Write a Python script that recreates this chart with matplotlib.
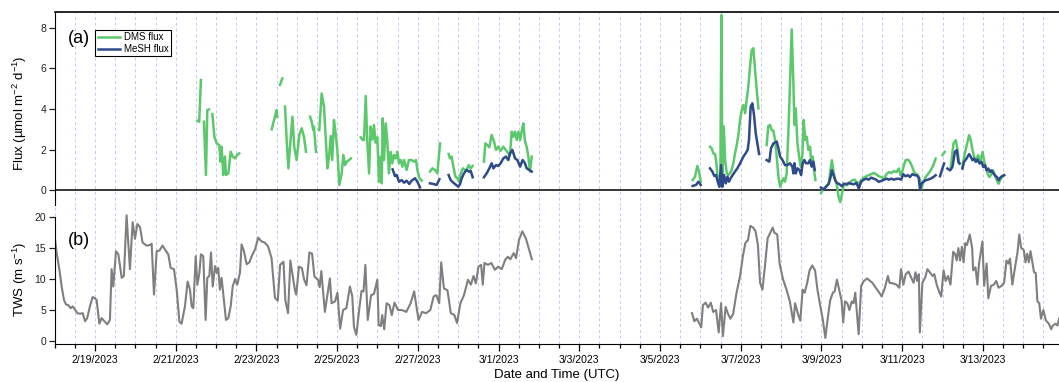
"""DMS / MeSH flux and true wind speed, Feb-Mar 2023"""
from datetime import datetime, timedelta

import numpy as np
import matplotlib
matplotlib.use("Agg")
import matplotlib.pyplot as plt
import matplotlib.dates as mdates
from matplotlib.ticker import FuncFormatter

nan = np.nan

# hours since 2023-02-18 00:00 UTC; nan breaks a line between data blocks
dms_hours = [
    84.9, 86.0, 87.0, nan,
    88.8, 90.0, 90.8, 91.8, nan,
    93.8, 95.0, 96.4, 97.9, 98.7, 99.3, 100.3, 101.3, 101.9, 103.3, 104.7, 105.9, 107.3, 108.6, 109.8, nan,
    129.1, 132.0, 132.4, nan,
    134.0, 135.4, nan,
    137.0, 138.0, 139.0, 140.0, 141.4, 142.5, 143.9, 145.5, 146.9, 148.3, 149.5, nan,
    151.9, 152.9, 153.8, 154.2, 155.4, nan,
    157.4, 158.8, 160.2, 161.2, 162.2, 163.2, 164.2, 165.1, 166.1, 167.1, 168.1, 169.3, 170.7, 171.7, 172.7, 173.7, 175.1, 176.2, nan,
    182.0, 183.2, 184.0, 185.0, 186.0, 187.0, 187.9, 189.1, 189.9, 190.9, 191.9, 192.9, 193.9, 194.5, 195.1, 195.9,
    196.9, 197.9, 198.8, 199.8, 200.8, 201.8, 202.8, 203.8, 204.8, 205.8, 206.8, 207.8, 209.3, 210.7, 212.3, 213.7,
    214.9, 215.7, 216.9, 218.3, nan,
    223.2, 224.6, 226.2, 227.6, 229.2, nan,
    234.3, 235.1, 236.1, 237.1, 238.3, 239.5, 240.5, 241.5, 242.7, 244.0, 245.0, 246.2, 247.4, 248.6, nan,
    255.3, 256.1, 257.3, 258.5, 259.9, 261.3, 262.5, 263.9, 265.2, 266.8, 268.2, 269.8, 270.8, 271.8, 272.8, 273.8,
    274.8, 275.8, 276.8, 277.7, 278.7, 279.7, 280.7, 281.7, 282.7, 283.7, nan,
    379.4, 380.8, 382.2, 383.4, 384.2, nan,
    389.7, 390.7, 391.7, 392.7, 393.3, 394.1, 395.3, 395.9, 396.5, 397.1, 397.9, 398.7, 399.7, 400.6, 401.6, 402.6,
    403.6, 404.6, 405.6, 406.6, 407.6, 408.6, 409.6, 410.6, 411.5, 412.5, 413.5, 414.5, 415.5, 416.5, 417.5, 418.5, nan,
    423.4, 424.4, 425.4, 426.4, 427.4, 428.4, 429.4, 430.4, 431.4, 432.4, 433.4, 434.3, 435.3, 436.3, 437.3, 438.3,
    439.3, 439.9, 440.7, 441.7, 442.7, 443.7, 444.7, 445.4, 446.4, 447.2, 448.2, 449.2, 450.0, 450.8, 451.6, 452.4, nan,
    455.7, 457.3, 458.9, 460.3, 461.2, 462.2, 463.2, 464.2, 465.2, 466.2, 467.2, 468.2, 469.2, 470.2, 471.2, 472.6,
    474.2, 475.6, 476.8, 478.2, 479.5, 481.1, 482.7, 484.1, 485.5, 487.1, 488.5, 490.1, 491.5, 493.1, 494.7, 496.1,
    497.5, 499.0, 500.6, 502.0, 503.0, 504.0, 505.0, 506.0, 507.4, 508.6, 510.0, 511.0, 512.0, 513.4, 514.6, 515.4,
    516.6, 517.9, 519.3, 520.9, 522.5, 523.9, nan,
    527.9, 529.3, nan,
    532.9, 534.5, 535.9, 536.9, 537.8, nan,
    539.8, 541.2, 542.4, 543.8, 544.8, 545.8, 546.8, 547.8, 549.2, 550.4, 551.8, 552.8, 553.8, 554.8, 555.8, 556.7,
    558.1, 559.1, 560.3, 561.3, 562.7, 564.3,
]
dms_flux = [
    3.42, 3.37, 5.43, nan,
    3.37, 0.74, 3.95, 3.98, nan,
    3.75, 2.63, 2.30, 2.22, 1.40, 2.14, 0.74, 1.65, 0.74, 0.82, 1.89, 1.65, 1.56, 1.73, 1.81, nan,
    3.00, 3.95, 3.62, nan,
    5.19, 5.51, nan,
    4.12, 2.47, 1.07, 2.14, 3.62, 2.14, 1.48, 2.72, 3.05, 2.63, 1.89, nan,
    3.62, 3.37, 2.96, 3.13, 1.89, nan,
    2.96, 4.77, 4.12, 2.63, 1.07, 1.65, 2.67, 1.48, 3.46, 2.80, 1.98, 0.25, 0.82, 1.73, 1.23, 1.40, 1.48, 1.56, nan,
    2.60, 2.47, 2.47, 4.64, 2.30, 0.82, 3.13, 2.50, 3.21, 2.34, 2.60, 0.41, 1.65, 0.33, 3.54, 1.48,
    3.29, 2.30, 0.82, 1.89, 1.32, 1.73, 1.56, 1.89, 1.32, 1.48, 1.15, 1.48, 0.99, 1.48, 1.48, 1.40,
    1.48, 0.99, 0.58, 0.46, nan,
    0.91, 1.07, 0.99, 0.82, 2.30, nan,
    1.78, 1.56, 1.65, 1.15, 0.66, 0.58, 0.41, 0.82, 1.07, 0.99, 0.99, 1.23, 1.07, 1.19, nan,
    1.40, 2.30, 2.22, 2.11, 2.72, 2.39, 1.98, 2.14, 1.94, 2.14, 1.98, 1.81, 1.73, 2.88, 2.63, 2.88,
    2.47, 2.88, 2.47, 2.88, 3.29, 2.39, 2.14, 1.65, 0.91, 1.65, nan,
    0.49, 0.66, 1.19, 0.82, 0.41, nan,
    2.14, 2.06, 1.81, 1.78, 1.48, 0.82, 0.16, 0.82, 8.64, 0.49, 3.13, 1.48, 0.82, 0.74, 0.82, 0.99,
    1.32, 1.81, 2.22, 2.72, 3.46, 3.95, 4.20, 3.79, 4.44, 5.10, 6.09, 6.91, 7.00, 5.93, 4.94, 4.03, nan,
    2.22, 3.16, 3.21, 2.96, 2.93, 2.47, 1.65, 0.66, 0.16, 0.41, 0.58, 0.41, 0.82, 2.80, 5.27, 7.93,
    5.27, 3.21, 4.03, 2.30, 1.65, 1.15, 1.81, 3.46, 2.47, 2.63, 1.98, 2.14, 1.32, 1.65, 0.99, 0.49, nan,
    -0.15, 0.07, 0.18, 0.31, 0.89, 1.47, 0.89, 0.48, 0.23, -0.35, -0.60, -0.18, 0.23, 0.31, 0.23, 0.35,
    0.48, 0.51, 0.40, 0.31, 0.48, 0.61, 0.68, 0.73, 0.78, 0.84, 0.78, 0.68, 0.64, 0.56, 0.78, 0.89,
    0.84, 0.93, 0.89, 1.06, 0.73, 0.89, 1.22, 1.47, 1.50, 1.39, 1.14, 0.89, 0.81, 0.73, 0.51, 0.07,
    0.40, 0.64, 0.78, 0.97, 1.22, 1.55, nan,
    1.72, 1.88, nan,
    1.14, 2.30, 2.46, 1.97, 1.31, nan,
    1.14, 1.80, 2.21, 2.71, 2.46, 1.97, 1.64, 1.47, 1.72, 1.39, 1.88, 1.39, 1.14, 0.81, 0.64, 0.73,
    0.97, 0.73, 0.48, 0.31, 0.56, 0.73,
]

mesh_hours = [
    201.0, 202.4, 203.4, 204.8, 206.4, 207.8, 209.3, 210.9, 212.3, 214.3, 215.7, 217.3, nan,
    223.2, 225.2, 227.2, 228.8, nan,
    234.3, 235.5, 237.1, 238.7, 240.1, 241.1, 242.1, 243.4, 245.0, 246.4, 247.4, 248.6, nan,
    255.3, 256.9, 258.5, 259.9, 260.9, 262.5, 263.9, 265.2, 266.8, 268.4, 269.8, 270.8, 272.2, 273.8, 275.2, 276.8,
    278.3, 279.7, 280.7, 282.3, 283.7, nan,
    379.4, 381.4, 382.8, 384.2, nan,
    389.7, 391.1, 392.3, 393.3, 394.3, 395.3, 396.3, 397.1, 398.1, 399.1, 400.1, 401.0, 402.0, 403.2, 404.6, 406.0,
    407.6, 409.6, 410.9, 412.1, 412.9, 413.9, 414.9, 415.9, 416.9, 417.9, 418.9, nan,
    423.4, 425.0, 426.0, 427.4, 429.4, 430.4, 431.4, 432.8, 434.3, 435.7, 437.3, 438.7, 439.3, 439.9, 440.7, 441.7,
    442.9, 443.9, 444.8, 445.8, 446.8, 448.2, 449.2, 450.2, 451.2, 452.0, nan,
    455.7, 457.3, 458.9, 460.3, 461.2, 462.2, 463.2, 464.2, 465.2, 466.8, 468.2, 469.2, 470.8, 472.2, 473.6, 475.2,
    476.8, 478.2, 479.5, 481.1, 482.7, 484.1, 485.5, 487.1, 488.5, 490.1, 491.5, 493.1, 494.7, 496.1, 497.5, 499.0,
    500.6, 502.0, 503.4, 504.6, 506.0, 507.4, 508.6, 510.0, 511.4, 512.6, 513.8, 514.6, 515.4, 516.6, 517.9, 519.3,
    520.9, 522.5, 523.9, nan,
    526.5, 527.9, 528.9, nan,
    530.9, 532.5, 533.9, 535.3, 536.5, 537.4, 538.2, nan,
    539.8, 540.8, 542.2, 543.8, 544.8, 545.8, 546.8, 547.8, 548.8, 550.0, 551.2, 552.2, 553.2, 554.2, 555.2, 556.2,
    557.1, 558.1, 559.1, 560.3, 561.3, 562.3, 563.3, 564.7,
]
mesh_flux = [
    1.02, 0.69, 0.74, 0.41, 0.49, 0.36, 0.46, 0.30, 0.46, 0.58, 0.41, 0.13, nan,
    0.33, 0.30, 0.25, 0.53, nan,
    0.74, 0.49, 0.36, 0.25, 0.16, 0.30, 0.58, 0.82, 0.99, 0.91, 0.95, 0.63, nan,
    0.63, 0.82, 1.07, 1.32, 1.07, 1.23, 1.19, 1.32, 1.56, 1.65, 1.48, 1.81, 1.98, 1.56, 1.48, 1.15,
    1.48, 1.32, 1.07, 0.99, 0.91, nan,
    0.20, 0.25, 0.41, 0.25, nan,
    1.07, 0.91, 0.69, 0.74, 0.41, 0.16, 1.23, 0.16, 0.74, 0.33, 0.66, 0.41, 0.58, 0.74, 0.91, 1.07,
    1.32, 1.65, 1.81, 1.98, 2.47, 4.12, 4.28, 3.70, 2.80, 2.30, 1.78, nan,
    1.48, 1.40, 2.06, 2.30, 2.39, 2.06, 1.65, 1.48, 1.23, 1.23, 1.32, 1.15, 0.82, 1.32, 0.82, 1.07,
    0.99, 0.74, 1.32, 1.48, 1.32, 1.32, 1.48, 1.15, 1.40, 0.99, nan,
    0.12, 0.02, 0.18, 0.31, 0.56, 0.97, 0.73, 0.48, 0.35, 0.28, 0.18, 0.31, 0.28, 0.35, 0.31, 0.28,
    0.35, 0.07, 0.40, 0.51, 0.56, 0.51, 0.61, 0.56, 0.51, 0.40, 0.45, 0.51, 0.56, 0.51, 0.56, 0.51,
    0.55, 0.56, 0.51, 0.78, 0.68, 0.73, 0.64, 0.78, 0.73, 0.73, 0.61, 0.02, 0.31, 0.40, 0.48, 0.51,
    0.56, 0.64, 0.73, nan,
    0.68, 1.06, 1.31, nan,
    1.06, 0.97, 1.14, 1.88, 1.97, 1.39, 1.31, nan,
    1.06, 1.39, 1.55, 1.77, 1.64, 1.47, 1.55, 1.39, 1.50, 1.31, 1.39, 1.14, 1.22, 0.97, 1.06, 0.89,
    0.97, 0.84, 0.73, 0.64, 0.48, 0.61, 0.68, 0.73,
]

tws_hours = [
    0.0, 1.2, 2.8, 4.2, 5.6, 6.8, 8.1, 9.5, 10.7, 12.1, 13.5, 15.1, 16.7, 18.1, 19.4, 21.0,
    22.6, 24.0, 25.0, 26.6, 28.0, 29.9, 31.3, 32.9, 33.9, 34.9, 36.5, 37.9, 38.9, 39.9, 41.2, 42.8,
    44.8, 46.4, 47.8, 49.2, 50.8, 52.3, 54.7, 56.7, 57.7, 59.1, 60.7, 62.3, 64.2, 65.6, 67.6, 69.0,
    71.0, 72.6, 74.2, 75.5, 77.5, 79.1, 80.5, 81.5, 82.5, 83.9, 84.9, 86.1, 87.0, 88.4, 89.8, 90.8,
    92.0, 93.0, 94.0, 95.4, 96.4, 97.3, 98.3, 99.3, 100.7, 101.9, 103.3, 104.7, 105.9, 107.3, 108.6, 110.2,
    111.2, 112.6, 114.2, 115.8, 117.2, 119.2, 121.1, 122.9, 124.9, 126.9, 129.0, 131.0, 132.7, 134.1, 136.1, 137.2,
    138.8, 140.2, 142.9, 143.7, 145.3, 147.0, 148.4, 149.8, 151.5, 153.1, 154.5, 156.6, 157.6, 158.6, 160.7, 162.1,
    163.7, 164.7, 166.8, 168.2, 169.8, 171.5, 173.5, 175.6, 177.0, 178.0, 179.4, 181.1, 182.5, 183.7, 184.8, 186.2,
    188.2, 189.9, 191.9, 192.7, 194.0, 194.8, 196.0, 197.4, 199.1, 200.5, 202.1, 204.2, 206.6, 209.1, 211.7, 213.8,
    216.4, 218.5, 220.9, 223.4, 225.4, 227.0, 228.7, 229.9, 231.5, 233.6, 235.6, 237.7, 239.3, 241.3, 243.4, 245.8,
    247.5, 249.1, 250.5, 252.0, 253.6, 254.6, 255.6, 257.7, 259.7, 261.8, 263.8, 265.9, 267.9, 269.5, 271.0, 273.0,
    274.4, 276.1, 278.1, 280.2, 282.2, 283.8, nan,
    379.0, 380.4, 382.0, 384.5, 385.5, 387.1, 388.6, 390.2, 391.6, 393.3, 394.9, 396.3, 397.4, 399.0, 400.4, 401.9,
    403.5, 405.5, 407.6, 409.2, 410.7, 412.3, 413.7, 415.4, 416.8, 418.2, 419.5, 420.9, 422.3, 424.0, 425.6, 427.0,
    428.0, 429.7, 431.1, 433.1, 435.2, 437.2, 439.3, 440.3, 442.0, 443.4, 444.8, 446.0, 447.5, 448.9, 450.5, 452.2,
    453.6, 455.0, 456.7, 458.3, 459.7, 461.2, 462.8, 463.8, 465.2, 466.9, 467.9, 468.9, 470.0, 471.4, 472.6, 474.0,
    475.1, 476.1, 477.1, 478.1, 479.6, 481.2, 483.2, 484.9, 486.3, 488.3, 490.4, 491.8, 493.5, 495.5, 496.5, 498.6,
    500.6, 502.3, 503.3, 504.7, 506.1, 507.8, 509.4, 510.8, 511.9, 512.9, 513.9, 514.5, 516.0, 517.6, 519.0, 520.4,
    522.1, 523.1, 524.5, 526.2, 527.2, 528.6, 529.8, 531.3, 532.7, 534.3, 535.4, 536.4, 537.4, 538.4, 539.5, 540.5,
    541.5, 542.5, 544.2, 545.6, 546.2, 547.6, 548.7, 549.7, 551.7, 552.7, 554.2, 555.2, 556.8, 558.5, 559.9, 561.3,
    563.0, 564.6, 566.0, 567.1, 568.1, 569.5, 571.1, 572.6, 573.6, 574.8, 576.3, 577.3, 578.3, 579.3, 580.3, 581.4,
    582.4, 583.4, 584.4, 585.5, 586.5, 587.9, 589.5, 591.2, 592.6, 593.6, 595.3, 596.3, 597.3,
]
tws = [
    17.0, 14.3, 11.6, 8.8, 6.6, 5.9, 5.8, 5.3, 5.6, 5.1, 4.5, 4.4, 4.5, 3.2, 3.7, 5.6,
    7.1, 6.9, 6.6, 2.8, 3.7, 3.1, 2.7, 3.4, 11.6, 8.8, 14.5, 14.0, 12.1, 10.2, 10.5, 20.3,
    11.6, 19.2, 16.5, 18.9, 18.4, 15.9, 15.4, 15.5, 15.7, 7.5, 14.5, 14.6, 15.4, 14.8, 14.0, 11.8,
    11.6, 8.3, 3.1, 2.8, 5.6, 9.6, 8.3, 5.6, 5.3, 13.7, 9.1, 11.0, 14.0, 13.7, 3.4, 10.2,
    10.5, 14.3, 8.8, 12.1, 11.0, 11.8, 8.3, 10.2, 6.6, 3.4, 3.7, 5.6, 8.8, 10.0, 9.1, 11.0,
    15.6, 14.5, 12.4, 12.7, 13.7, 14.8, 16.7, 16.1, 15.9, 15.3, 13.4, 7.0, 6.5, 12.3, 12.8, 6.6,
    4.5, 13.0, 8.2, 7.5, 12.0, 11.8, 9.9, 9.0, 14.3, 14.1, 10.4, 9.9, 8.7, 11.3, 4.7, 7.2,
    10.1, 6.1, 6.4, 7.8, 2.0, 5.0, 5.3, 8.8, 7.2, 2.3, 1.0, 5.0, 8.1, 8.0, 12.3, 3.4,
    7.4, 7.6, 9.9, 2.6, 2.4, 4.2, 1.9, 6.1, 5.8, 4.2, 6.2, 5.0, 5.0, 4.7, 6.1, 8.0,
    3.4, 4.7, 4.5, 5.0, 7.2, 7.4, 6.1, 12.7, 8.5, 8.2, 4.5, 4.2, 2.9, 6.1, 7.4, 9.9,
    9.1, 10.5, 9.3, 12.0, 12.3, 9.1, 12.6, 12.3, 12.6, 11.5, 12.0, 11.6, 13.1, 13.6, 13.2, 14.2,
    13.4, 16.3, 17.7, 16.6, 14.7, 13.2, nan,
    4.5, 3.2, 3.6, 2.2, 5.8, 6.2, 5.4, 6.2, 4.7, 5.0, 1.4, 6.1, 0.8, 5.5, 4.4, 3.6,
    4.4, 7.8, 10.5, 13.6, 15.8, 16.3, 18.6, 18.3, 17.7, 15.5, 9.4, 8.3, 11.9, 16.6, 17.5, 18.3,
    17.5, 17.2, 12.5, 10.0, 8.3, 6.4, 3.0, 6.1, 4.4, 3.3, 8.3, 7.8, 9.4, 11.4, 12.2, 11.4,
    8.3, 6.1, 3.6, 0.5, 3.6, 6.6, 7.8, 8.0, 9.9, 7.8, 6.6, 3.0, 6.4, 6.1, 5.0, 6.4,
    6.1, 7.8, 4.4, 1.1, 8.9, 9.7, 10.1, 9.7, 9.4, 8.6, 7.8, 7.2, 8.4, 10.5, 9.4, 9.3,
    9.1, 8.6, 11.6, 9.1, 10.8, 11.2, 10.2, 9.4, 11.1, 9.7, 10.8, 1.4, 9.4, 10.2, 11.6, 11.1,
    10.5, 10.8, 9.1, 7.8, 7.2, 11.4, 9.7, 10.5, 9.1, 14.4, 14.1, 13.0, 15.0, 13.0, 15.2, 12.7,
    15.8, 15.5, 17.2, 15.0, 11.4, 11.9, 9.1, 12.5, 16.1, 8.9, 12.5, 6.9, 8.9, 9.1, 9.7, 8.6,
    8.9, 9.4, 13.0, 12.5, 13.3, 9.1, 11.9, 14.4, 17.2, 15.0, 14.7, 12.7, 14.1, 12.7, 14.5, 12.7,
    11.1, 11.0, 6.4, 6.1, 3.6, 5.0, 3.3, 2.8, 1.9, 2.5, 2.8, 2.5, 3.6,
]

start = datetime(2023, 2, 18)
# the plotted window is cut off at the right edge a few hours before 3/15
end = start + timedelta(days=24.885)

green = "#5cc86c"
navy = "#2f4a8a"
grey = "#7f7f7f"
gridcol = "#c9c6f2"

plt.rcParams["font.family"] = ["Liberation Sans", "DejaVu Sans"]
plt.rcParams["mathtext.fontset"] = "custom"
plt.rcParams["mathtext.rm"] = "Liberation Sans"
plt.rcParams["mathtext.default"] = "regular"


def to_dates(hours):
    # hours after start -> matplotlib date numbers
    return mdates.date2num(start) + np.asarray(hours, dtype=float) / 24.0


W, H = 1059, 382
fig = plt.figure(figsize=(W / 100, H / 100), dpi=100)
left = 54.6 / W
width = 1.0 - left
ax1 = fig.add_axes([left, (H - 206) / H, width, 194 / H])
ax2 = fig.add_axes([left, (H - 344) / H, width, 138 / H], sharex=ax1)

# (a) fluxes
ax1.plot(to_dates(dms_hours), dms_flux, color=green, lw=1.8, label="DMS flux")
ax1.plot(to_dates(mesh_hours), mesh_flux, color=navy, lw=1.8, label="MeSH flux")
ax1.axhline(0, color="black", lw=1.1, zorder=1)
ax1.set_ylim(-0.79, 8.79)
ax1.set_yticks([0, 2, 4, 6, 8])
ax1.set_ylabel(r"Flux (µmol m$^{-2}$ d$^{-1}$)", fontsize=9.5)
ax1.yaxis.set_label_coords(-0.025, 0.48)
ax1.spines["bottom"].set_visible(False)
ax1.spines["right"].set_visible(False)
ax1.spines["top"].set_linewidth(1.2)
ax1.tick_params(axis="x", which="both", length=0, labelbottom=False)
ax1.text(0.013, 0.84, "(a)", transform=ax1.transAxes, fontsize=13)
leg = ax1.legend(loc="upper left", bbox_to_anchor=(0.0405, 0.907), borderaxespad=0,
                 fontsize=7, handlelength=2.3, handletextpad=0.4, borderpad=0.25,
                 labelspacing=0.15, fancybox=False, framealpha=1)
leg.get_frame().set_edgecolor("black")
leg.get_frame().set_linewidth(0.8)

# (b) true wind speed
ax2.plot(to_dates(tws_hours), tws, color=grey, lw=1.5)
ax2.set_ylim(-0.48, 21.8)
ax2.set_yticks([0, 5, 10, 15, 20])
ax2.spines["left"].set_bounds(-0.48, 20)
ax2.spines["top"].set_visible(False)
ax2.spines["right"].set_visible(False)
ax2.set_ylabel(r"TWS (m s$^{-1}$)", fontsize=9.5)
ax2.yaxis.set_label_coords(-0.025, 0.47)
ax2.text(0.013, 0.72, "(b)", transform=ax2.transAxes, fontsize=13)
ax2.set_xlabel("Date and Time (UTC)", fontsize=9.5, labelpad=3)

ax2.set_xlim(mdates.date2num(start), mdates.date2num(end))
ax2.xaxis.set_major_locator(mdates.DayLocator(bymonthday=range(1, 32, 2)))
ax2.xaxis.set_minor_locator(mdates.HourLocator(byhour=[0, 12]))
ax2.xaxis.set_major_formatter(FuncFormatter(
    lambda v, pos: "{d.month}/{d.day}/{d.year}".format(d=mdates.num2date(v))))

for ax in (ax1, ax2):
    ax.grid(True, axis="x", which="both", color=gridcol, lw=0.7, ls=(0, (3, 3)))
    ax.set_axisbelow(True)
    ax.tick_params(axis="y", length=4, width=0.9, labelsize=7.5, pad=2, colors="#222222")
ax2.tick_params(axis="x", which="major", length=5, width=0.9, labelsize=7.5, pad=3)
ax2.tick_params(axis="x", which="minor", length=3, width=0.9)

fig.savefig("out.png", dpi=100)
